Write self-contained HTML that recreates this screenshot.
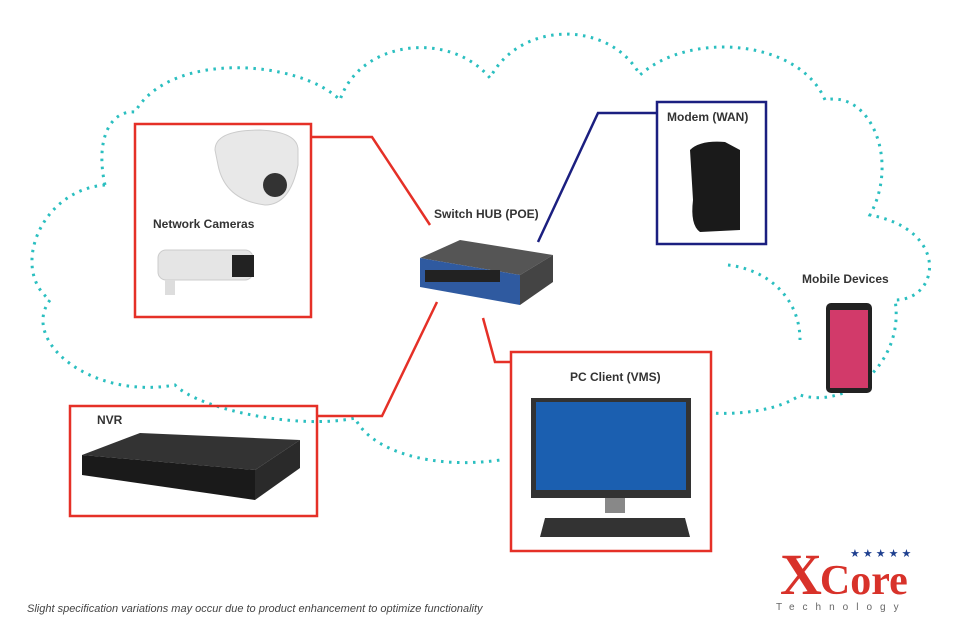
<!DOCTYPE html>
<html><head><style>
body{margin:0;width:964px;height:628px;background:#fff;position:relative;overflow:hidden;font-family:"Liberation Sans",sans-serif}
.l{position:absolute;font-weight:bold;font-size:12px;color:#333}
</style></head><body>
<svg width="964" height="628" style="position:absolute;left:0;top:0">
<g fill="none" stroke="#2bbfc0" stroke-width="3" stroke-dasharray="2.5 5.5">
<path d="M105,185 C40,190 10,270 50,300 C20,340 90,400 175,385 C200,410 300,430 355,418 C370,450 430,470 500,460"/>
<path d="M105,185 C95,140 110,110 135,112 C170,50 300,60 340,100 C360,40 450,30 490,78 C520,20 610,20 640,75 C690,30 800,40 825,100 C870,90 900,160 870,215 C950,230 940,300 895,300 C905,360 850,410 800,395 C780,410 740,415 710,413"/>
<path d="M728,265 C770,270 800,300 800,340"/>
</g>
<g fill="none" stroke-width="2.5">
<polyline points="312,137 372,137 430,225" stroke="#e53027"/>
<polyline points="538,242 598,113 657,113" stroke="#1b1f80"/>
<polyline points="437,302 382,416 318,416" stroke="#e53027"/>
<polyline points="483,318 495,362 512,362" stroke="#e53027"/>
</g>
<rect x="135" y="124" width="176" height="193" fill="none" stroke="#e53027" stroke-width="2.5"/>
<rect x="657" y="102" width="109" height="142" fill="none" stroke="#1b1f80" stroke-width="2.5"/>
<rect x="70" y="406" width="247" height="110" fill="none" stroke="#e53027" stroke-width="2.5"/>
<rect x="511" y="352" width="200" height="199" fill="none" stroke="#e53027" stroke-width="2.5"/>
<!-- cameras -->
<path d="M215,150 Q215,130 260,130 Q298,132 298,150 L298,165 Q290,205 265,205 Q225,200 218,165Z" fill="#e8e8e8" stroke="#ccc"/>
<circle cx="275" cy="185" r="12" fill="#333"/>
<rect x="158" y="250" width="95" height="30" rx="8" fill="#e5e5e5" stroke="#ccc"/>
<rect x="232" y="255" width="22" height="22" fill="#222"/>
<rect x="165" y="280" width="10" height="15" fill="#ddd"/>
<!-- switch -->
<polygon points="420,258 460,240 553,255 520,275" fill="#555"/>
<polygon points="420,258 520,275 520,305 420,287" fill="#2f5aa0"/>
<polygon points="520,275 553,255 553,282 520,305" fill="#444"/>
<rect x="425" y="270" width="75" height="12" fill="#222"/>
<!-- modem -->
<path d="M690,150 Q700,140 725,142 L740,150 L740,230 L700,232 Q690,225 693,200Z" fill="#1a1a1a"/>
<!-- NVR -->
<polygon points="82,455 140,433 300,440 255,470" fill="#333"/>
<polygon points="82,455 255,470 255,500 82,475" fill="#1a1a1a"/>
<polygon points="255,470 300,440 300,468 255,500" fill="#2a2a2a"/>
<!-- monitor -->
<rect x="531" y="398" width="160" height="100" fill="#333"/>
<rect x="536" y="402" width="150" height="88" fill="#1b5fb0"/>
<rect x="605" y="498" width="20" height="15" fill="#888"/>
<polygon points="545,518 685,518 690,537 540,537" fill="#333"/>
<!-- phone -->
<rect x="826" y="303" width="46" height="90" rx="5" fill="#222"/>
<rect x="830" y="310" width="38" height="78" fill="#d23a6a"/>
</svg>
<div class="l" style="left:153px;top:217px">Network Cameras</div>
<div class="l" style="left:434px;top:207px">Switch HUB (POE)</div>
<div class="l" style="left:667px;top:110px">Modem (WAN)</div>
<div class="l" style="left:802px;top:272px">Mobile Devices</div>
<div class="l" style="left:570px;top:370px">PC Client (VMS)</div>
<div class="l" style="left:97px;top:413px">NVR</div>
<div style="position:absolute;left:27px;top:603px;font-size:11px;font-style:italic;color:#444">Slight specification variations may occur due to product enhancement to optimize functionality</div>
<div style="position:absolute;left:780px;top:545px;font-family:'Liberation Serif',serif;font-size:58px;font-weight:bold;color:#d8322a;line-height:60px;letter-spacing:-2px">X<span style="font-size:42px;letter-spacing:0">Core</span></div>
<div style="position:absolute;left:850px;top:547px;color:#1e3f8f;font-size:11px;letter-spacing:3px">★★★★★</div>
<div style="position:absolute;left:776px;top:602px;font-size:10px;color:#666;letter-spacing:8px">Technology</div>
</body></html>
